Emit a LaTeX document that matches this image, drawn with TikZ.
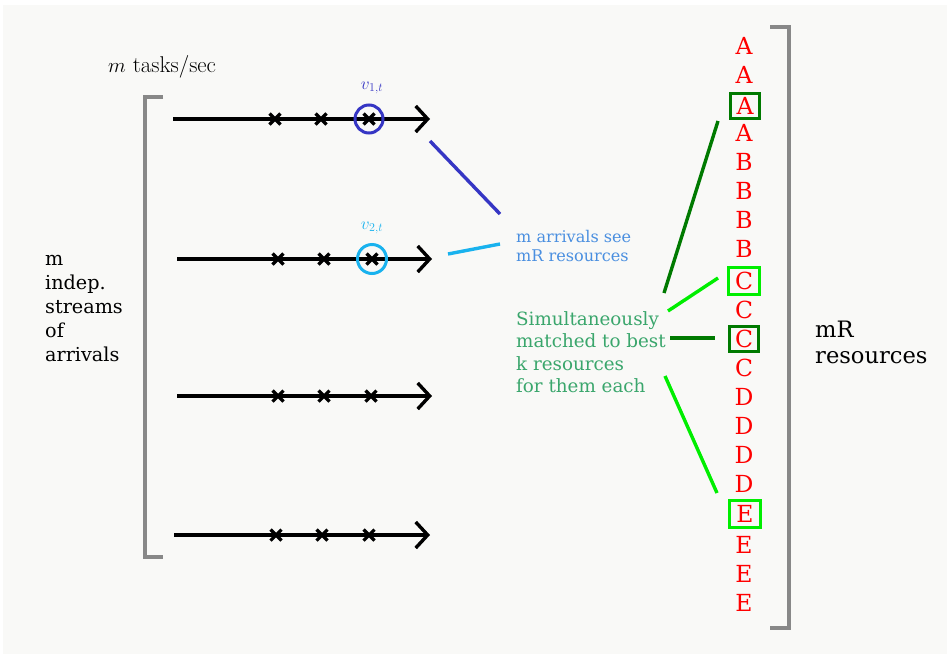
\documentclass[tikz,border=0pt]{standalone}
\usepackage{fontspec}
\newfontfamily\dvs{DejaVu Serif}
\definecolor{bg}{HTML}{F9F9F7}
\definecolor{vone}{HTML}{3636C4}
\definecolor{vtwo}{HTML}{19B2EE}
\definecolor{bluetxt}{HTML}{4A8FE0}
\definecolor{greentxt}{HTML}{3AA66C}
\definecolor{dgreen}{HTML}{007A00}
\definecolor{lgreen}{HTML}{00EE00}
\definecolor{brk}{HTML}{888888}
\tikzset{
  stream/.style={line width=3.4pt,-{Straight Barb[length=12pt,width=26pt,line width=3.4pt]}},
  xmark/.style={line width=3.2pt},
  bracket/.style={line width=3.4pt,brk},
  res/.style={text=red,font=\dvs\fontsize{23.5}{23.5}\selectfont,inner sep=0pt},
  dbox/.style={res,draw=dgreen,line width=3pt,minimum width=29pt,minimum height=25pt},
  lbox/.style={res,draw=lgreen,line width=3pt,minimum width=31pt,minimum height=27pt},
  link/.style={line width=3.4pt}
}
\usetikzlibrary{arrows.meta}
\begin{document}
\begin{tikzpicture}[x=1pt,y=-1pt]
\useasboundingbox (0,0) rectangle (947,654);
\fill[bg] (3,5) rectangle (947,654);
% brackets
\draw[bracket] (163,97) -- (145,97) -- (145,557) -- (163,557);
\draw[bracket] (770,27) -- (789,27) -- (789,628) -- (770,628);
% streams
\foreach \i/\y/\xa/\xb/\ca/\cb/\cc in {1/119/173/430/275/321/369, 2/259/177/432/278/324/372, 3/396/177/432/278/324/371, 4/535/174/430/276/322/369}{
  \coordinate (s\i a) at (\xa,\y);
  \coordinate (s\i b) at (\xb,\y);
  \draw[stream] (s\i a) -- (s\i b);
  \foreach \c in {\ca,\cb,\cc}{
    \draw[xmark] (\c-5.5,\y-5.5) -- (\c+5.5,\y+5.5) (\c-5.5,\y+5.5) -- (\c+5.5,\y-5.5);
  }
}
% circles
\node[draw=vone,line width=3pt,circle,minimum size=28pt,inner sep=0pt] (c1) at (369,119) {};
\node[draw=vtwo,line width=3pt,circle,minimum size=29pt,inner sep=0pt] (c2) at (372,259) {};
\node[text=vone,font=\fontsize{17}{17}\selectfont] (v1) at (372,88) {$v_{1,t}$};
\node[text=vtwo,font=\fontsize{17}{17}\selectfont] (v2) at (372,228) {$v_{2,t}$};
% texts
\node[font=\fontsize{22.8}{22.8}\selectfont,anchor=west,inner sep=0pt] (rate) at (108,67) {$m$ tasks/sec};
\node[font=\dvs\fontsize{19.2}{24}\selectfont,align=left,anchor=west,inner sep=0pt] (streams) at (45,309) {m\\indep.\\streams\\of\\arrivals};
\node[font=\dvs\fontsize{16.1}{19.5}\selectfont,text=bluetxt,align=left,anchor=west,inner sep=0pt] (see) at (516,246) {m arrivals see\\mR resources};
\node[font=\dvs\fontsize{18.3}{22.5}\selectfont,text=greentxt,align=left,anchor=west,inner sep=0pt] (match) at (516,352) {Simultaneously\\matched to best\\k resources\\for them each};
\node[font=\dvs\fontsize{22.6}{26}\selectfont,align=left,anchor=west,inner sep=0pt] (mr) at (815,342) {mR\\resources};
% resources
\foreach \n/\l/\y in {1/A/46,2/A/75,4/A/133,5/B/162,6/B/191,7/B/220,8/B/249,10/C/310,12/C/368,13/D/397,14/D/426,15/D/455,16/D/484,18/E/545,19/E/574,20/E/603}{
  \node[res] (r\n) at (744,\y) {\l};
}
\node[dbox] (r3) at (745,106) {A};
\node[lbox] (r9) at (744,281) {C};
\node[dbox] (r11) at (744,339) {C};
\node[lbox] (r17) at (745,514) {E};
% links
\coordinate (b1) at (430,141); \coordinate (b2) at (500,214);
\coordinate (b3) at (448,254); \coordinate (b4) at (500,244);
\draw[link,vone] (b1) -- (b2);
\draw[link,vtwo] (b3) -- (b4);
\coordinate (g1) at (664,293); \coordinate (g2) at (718,121);
\coordinate (g3) at (668,311); \coordinate (g4) at (718,278);
\coordinate (g5) at (670,338); \coordinate (g6) at (715,338);
\coordinate (g7) at (665,376); \coordinate (g8) at (717,493);
\draw[link,dgreen] (g1) -- (g2);
\draw[link,lgreen] (g3) -- (g4);
\draw[link,dgreen] (g5) -- (g6);
\draw[link,lgreen] (g7) -- (g8);
\end{tikzpicture}
\end{document}
